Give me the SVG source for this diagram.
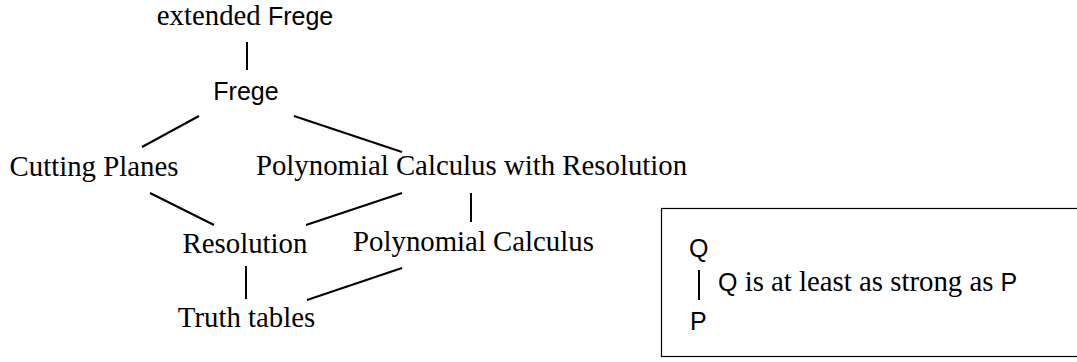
<svg xmlns="http://www.w3.org/2000/svg" width="1077" height="362" viewBox="0 0 1077 362">
<style>
.s{font-family:"Liberation Serif","Times New Roman",serif;font-size:28.8px;fill:#000}
.a{font-family:"Liberation Sans",Arial,sans-serif;font-size:25px}
.n{text-anchor:middle}
.e{stroke:#000;stroke-width:2;fill:none}
</style>
<rect width="1077" height="362" fill="#fff"/>
<g id="extended-frege"><text class="s n" x="245" y="25">extended <tspan class="a">Frege</tspan></text></g>
<g id="frege"><text class="s a n" x="246" y="100">Frege</text></g>
<g id="cutting-planes"><text class="s n" x="94" y="176">Cutting Planes</text></g>
<g id="pcr"><text class="s n" x="471.5" y="175">Polynomial Calculus with Resolution</text></g>
<g id="resolution"><text class="s n" x="245" y="253">Resolution</text></g>
<g id="pc"><text class="s n" x="473.5" y="251">Polynomial Calculus</text></g>
<g id="truth-tables"><text class="s n" x="246.5" y="327">Truth tables</text></g>
<g id="connectors" class="e">
<line x1="247" y1="42" x2="247" y2="70"/>
<line x1="199" y1="116" x2="142" y2="147"/>
<line x1="294" y1="116" x2="402" y2="152"/>
<line x1="150" y1="193" x2="214" y2="225"/>
<line x1="402" y1="193" x2="306" y2="225"/>
<line x1="471" y1="193" x2="471" y2="222"/>
<line x1="246" y1="266" x2="246" y2="299"/>
<line x1="402" y1="268" x2="307" y2="300"/>
</g>
<g id="legend">
<rect x="661.5" y="208.5" width="430" height="148" fill="none" stroke="#000" stroke-width="1.2"/>
<text class="s a" x="689" y="257">Q</text>
<line class="e" x1="699" y1="270" x2="699" y2="300"/>
<text class="s" x="718" y="291"><tspan class="a">Q</tspan> is at least as strong as <tspan class="a">P</tspan></text>
<text class="s a" x="690" y="330">P</text>
</g>
</svg>
